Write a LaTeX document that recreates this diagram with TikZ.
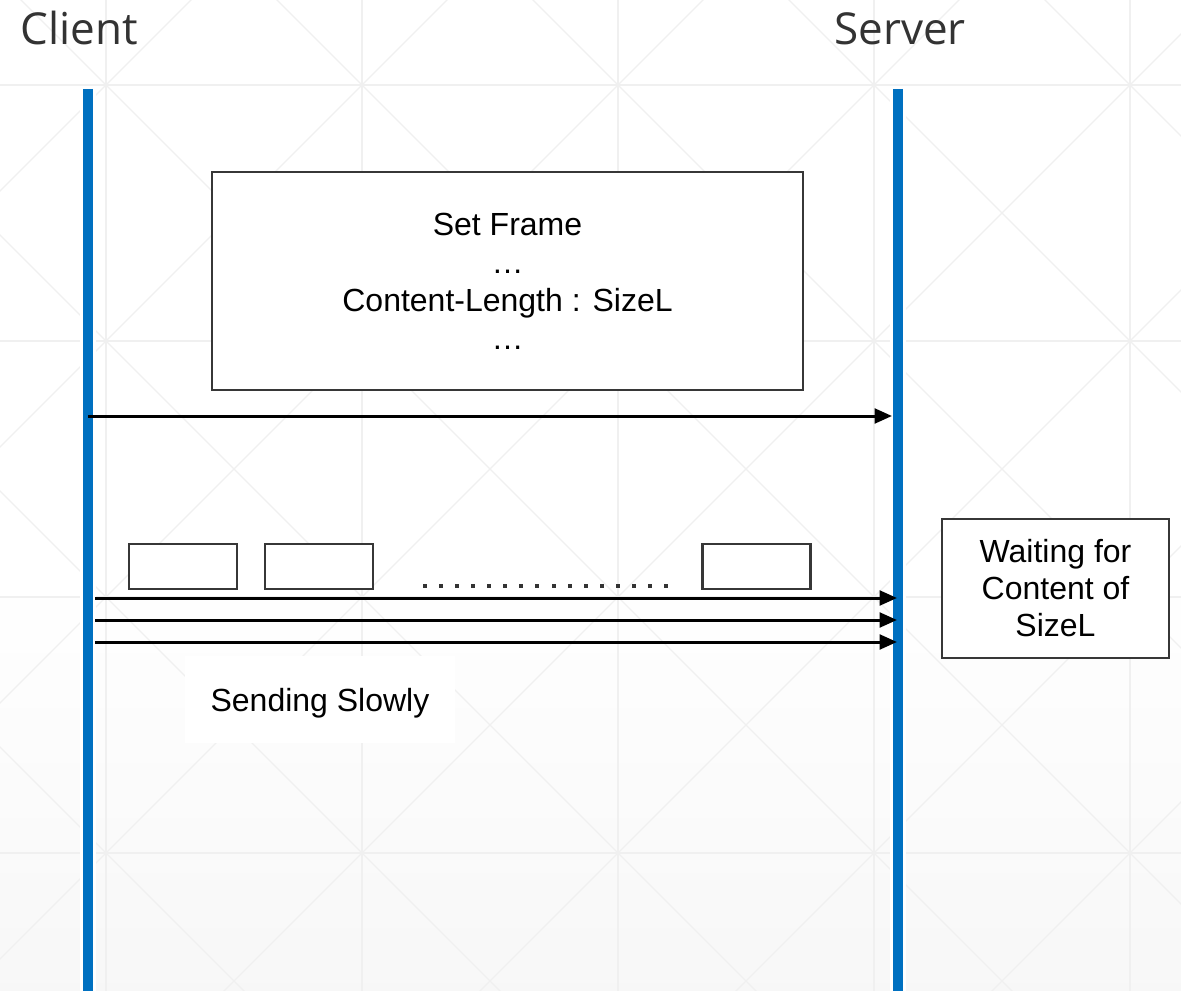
\documentclass[tikz,border=0pt]{standalone}
\usepackage{fontspec}
\setmainfont{Liberation Sans}
\newfontfamily\titlefont{Open Sans}
\usetikzlibrary{arrows.meta}

\definecolor{lifeblue}{RGB}{0,112,192}
\definecolor{inkgray}{RGB}{51,51,51}
\definecolor{boxgray}{RGB}{55,55,55}
\definecolor{gridgray}{RGB}{240,240,240}

\tikzset{
  x=0.75pt, y=-0.75pt,
  gridline/.style={gridgray, line width=1pt},
  lifehalo/.style={white, line width=12pt},
  lifeline/.style={lifeblue, line width=7.5pt},
  title/.style={font=\titlefont\fontsize{33pt}{40pt}\selectfont, text=inkgray, inner sep=0pt},
  framebox/.style={draw=boxgray, line width=1.9pt, fill=white, inner sep=0pt},
  msg/.style={black, line width=2.25pt, -{Triangle[length=13pt, width=11pt]}},
  dot/.style={fill=inkgray, draw=none, inner sep=0pt, minimum size=3pt},
  label/.style={font=\fontsize{24pt}{28.5pt}\selectfont, align=center}
}

\begin{document}
\begin{tikzpicture}
  % canvas and background
  \useasboundingbox (0,0) rectangle (1181,991);
  \fill[white] (0,0) rectangle (1181,991);
  \shade[top color=white, bottom color=gray!6] (0,570) rectangle (1181,991);

  % faint grid with a diagonal cross in every cell
  \begin{scope}
    \clip (0,0) rectangle (1181,991);
    \foreach \gx in {106,362,618,874,1130}
      \draw[gridline] (\gx,0) -- (\gx,991);
    \foreach \gy in {85,341,597,853}
      \draw[gridline] (0,\gy) -- (1181,\gy);
    \foreach \m in {-5,...,5}
      \draw[gridline] ({21+256*\m-100},-100) -- ({21+256*\m+1200},1200);
    \foreach \m in {-1,...,9}
      \draw[gridline] ({191+256*\m+100},-100) -- ({191+256*\m-1200},1200);
  \end{scope}

  % participants
  \node[title, anchor=base west] (client) at (20.5,45) {Client};
  \node[title, anchor=base west] (server) at (834,45) {Server};

  % lifelines
  \coordinate (ctop) at (88,89);
  \coordinate (cbot) at (88,991);
  \coordinate (stop) at (897.5,89);
  \coordinate (sbot) at (897.5,991);
  \draw[lifehalo] (ctop) -- (cbot);
  \draw[lifehalo] (stop) -- (sbot);
  \draw[lifeline] (ctop) -- (cbot);
  \draw[lifeline] (stop) -- (sbot);

  % request header frame
  \node[framebox, label, minimum width=443.25pt, minimum height=163.5pt] (frame) at (507.5,281)
    {Set Frame\\…\\Content-Length : SizeL\\…};

  % header message
  \coordinate (m1a) at (88,416);
  \coordinate (m1b) at (892,416);
  \draw[msg] (m1a) -- (m1b);

  % body chunks
  \node[framebox, minimum width=81pt, minimum height=33.75pt] (chunk1) at (183,566.5) {};
  \node[framebox, minimum width=81pt, minimum height=33.75pt] (chunk2) at (319,566.5) {};
  \node[framebox, minimum width=81pt, minimum height=33.75pt] (chunk3) at (756.5,566.5) {};
  \foreach \k in {0,...,15}
    \node[dot] (dot\k) at ({425+16.07*\k},586) {};

  % slow body messages
  \coordinate (m2a) at (95,598);
  \coordinate (m2b) at (897,598);
  \coordinate (m3a) at (95,620);
  \coordinate (m3b) at (897,620);
  \coordinate (m4a) at (95,642);
  \coordinate (m4b) at (897,642);
  \draw[msg] (m2a) -- (m2b);
  \draw[msg] (m3a) -- (m3b);
  \draw[msg] (m4a) -- (m4b);

  % server state
  \node[framebox, label, font=\fontsize{24pt}{27.75pt}\selectfont,
        minimum width=170.25pt, minimum height=104.25pt] (wait) at (1055.5,588.5)
    {Waiting for\\Content of\\SizeL};

  % caption
  \node[fill=white, label, inner sep=0pt, text depth=0pt,
        minimum width=202.5pt, minimum height=65.25pt] (slow) at (320,699.5) {Sending Slowly};
\end{tikzpicture}
\end{document}
